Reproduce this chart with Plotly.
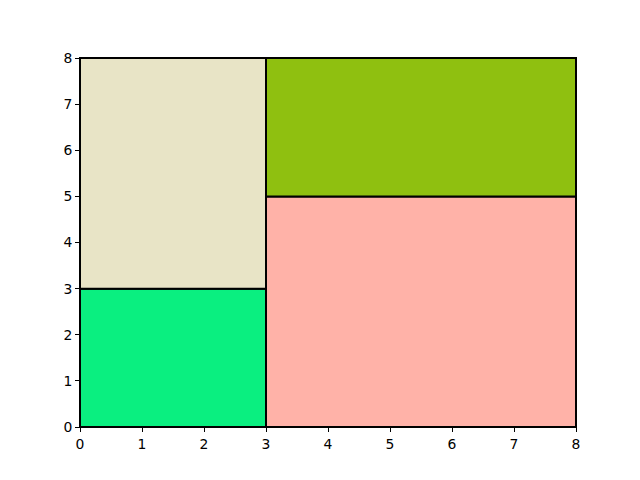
import plotly.graph_objects as go

rect_x = [0, 0, 3, 3]
rect_y = [0, 3, 0, 5]
rect_w = [3, 3, 5, 5]
rect_h = [3, 5, 5, 3]
colors = ["#0aef80", "#e8e4c6", "#ffb2a8", "#8fc010"]
x_ticks = [0, 1, 2, 3, 4, 5, 6, 7, 8]
y_ticks = [0, 1, 2, 3, 4, 5, 6, 7, 8]

fig = go.Figure()
fig.add_trace(go.Scatter(x=[0, 8], y=[0, 8], mode="markers",
                         marker=dict(opacity=0), hoverinfo="skip", showlegend=False))
for x, y, w, h, c in zip(rect_x, rect_y, rect_w, rect_h, colors):
    fig.add_shape(type="rect", xref="x", yref="y", x0=x, y0=y, x1=x + w, y1=y + h,
                  fillcolor=c, line=dict(color="black", width=2), layer="above")

axis_common = dict(showgrid=False, zeroline=False, ticks="outside", ticklen=4,
                   tickwidth=1, tickcolor="black", showline=True, linecolor="black",
                   linewidth=1, mirror=True, tickfont=dict(family="DejaVu Sans", size=13.9, color="black"))
fig.update_xaxes(range=[0, 8], tickvals=x_ticks, **axis_common)
fig.update_yaxes(range=[0, 8], tickvals=y_ticks, **axis_common)
fig.update_layout(width=640, height=480, margin=dict(l=80, r=64, t=58, b=53),
                  plot_bgcolor="white", paper_bgcolor="white", showlegend=False)
fig.write_html("out.html")
